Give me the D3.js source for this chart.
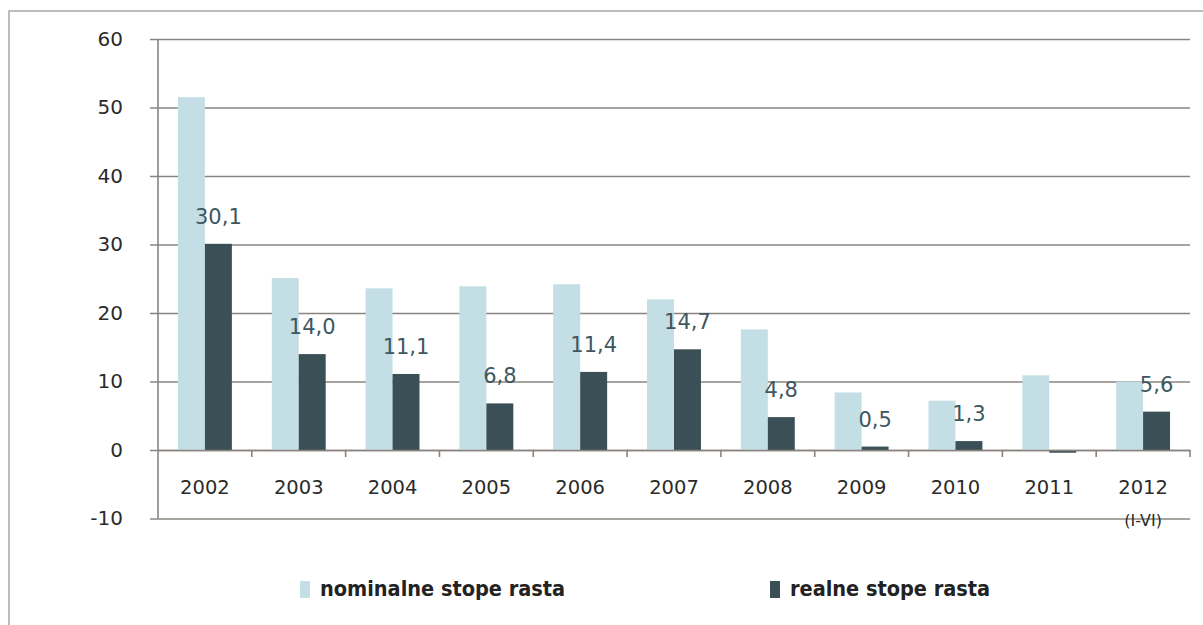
<!DOCTYPE html>
<html>
<head>
<meta charset="utf-8">
<script src="https://cdn.jsdelivr.net/npm/d3@7"></script>
<style>
  body { margin: 0; background: #fff; }
  svg { display: block; }
</style>
</head>
<body>
<svg></svg>
<script>
var years = ["2002","2003","2004","2005","2006","2007","2008","2009","2010","2011","2012"]
var yearNotes = ["","","","","","","","","","","(I-VI)"]
var nominal = [51.5, 25.1, 23.6, 23.9, 24.2, 22.0, 17.6, 8.4, 7.2, 10.9, 10.0]
var real = [30.1, 14.0, 11.1, 6.8, 11.4, 14.7, 4.8, 0.5, 1.3, -0.4, 5.6]
var realLabels = ["30,1","14,0","11,1","6,8","11,4","14,7","4,8","0,5","1,3","","5,6"]
var yTicks = [-10, 0, 10, 20, 30, 40, 50, 60]
var seriesNames = ["nominalne stope rasta", "realne stope rasta"]

var screen = {width:1203, height:625}
var plot = {left:158, right:1190, top:39, bottom:518.5}
var colors = ["#c3dee4", "#3a4f56"]

var svg = d3.select("svg")
  .attr("width", screen.width)
  .attr("height", screen.height)

// outer frame (cropped on the right and bottom)
svg.append("rect")
  .attr("x", 9).attr("y", 11)
  .attr("width", 1300).attr("height", 700)
  .attr("fill", "none")
  .attr("stroke", "#a9a6a3")
  .attr("stroke-width", 1.5)

var yScale = d3.scaleLinear()
  .domain([-10, 60])
  .range([plot.bottom, plot.top])

var xScale = d3.scaleBand()
  .domain(years)
  .range([plot.left, plot.right])

var sScale = d3.scaleBand()
  .domain([0, 1])
  .range([0, xScale.bandwidth()])
  .paddingOuter(0.74)

// gridlines + y ticks
var yAxis = d3.axisLeft(yScale)
  .tickValues(yTicks)
  .tickFormat(function(d){ return String(d) })
  .tickSize(-(plot.right - plot.left + 8))
  .tickPadding(27)
svg.append("g")
  .attr("id", "yAxis")
  .attr("transform", "translate(" + (plot.left - 8) + ",0)")
  .call(yAxis)
  .call(function(g){ g.select(".domain").remove() })
  .call(function(g){
    g.selectAll("line").attr("stroke", "#8a847f").attr("stroke-width", 1.6)
    g.selectAll("text")
      .attr("font-family", "DejaVu Sans, Verdana, sans-serif")
      .attr("font-size", 20)
      .attr("fill", "#2b2b2b")
  })

// y axis line
svg.append("line")
  .attr("x1", plot.left).attr("x2", plot.left)
  .attr("y1", yScale(60)).attr("y2", yScale(-10))
  .attr("stroke", "#8a847f").attr("stroke-width", 1.6)

var groups = svg.append("g")
  .attr("id", "graph")
  .selectAll("g")
  .data(years)
  .enter()
  .append("g")
  .attr("transform", function(d){ return "translate(" + xScale(d) + ",0)" })

groups.append("rect")
  .attr("x", sScale(0))
  .attr("width", sScale.bandwidth())
  .attr("y", function(d, i){ return yScale(Math.max(0, nominal[i])) })
  .attr("height", function(d, i){ return Math.abs(yScale(nominal[i]) - yScale(0)) })
  .attr("fill", colors[0])

groups.append("rect")
  .attr("x", sScale(1))
  .attr("width", sScale.bandwidth())
  .attr("y", function(d, i){ return yScale(Math.max(0, real[i])) })
  .attr("height", function(d, i){ return Math.abs(yScale(real[i]) - yScale(0)) })
  .attr("fill", colors[1])

groups.append("text")
  .attr("x", sScale(1) + sScale.bandwidth() / 2)
  .attr("y", function(d, i){ return yScale(Math.max(0, real[i])) - 20 })
  .attr("text-anchor", "middle")
  .attr("font-family", "DejaVu Sans, Verdana, sans-serif")
  .attr("font-size", 21)
  .attr("fill", "#3e5760")
  .text(function(d, i){ return realLabels[i] })

// zero line and category ticks
var xAxis = d3.axisBottom(xScale)
  .tickSize(0)
  .tickPadding(30)
svg.append("g")
  .attr("id", "xAxis")
  .attr("transform", "translate(0," + yScale(0) + ")")
  .call(xAxis)
  .call(function(g){
    g.select(".domain").attr("stroke", "#8a847f").attr("stroke-width", 1.6)
    g.selectAll("text")
      .attr("font-family", "DejaVu Sans, Verdana, sans-serif")
      .attr("font-size", 19.5)
      .attr("fill", "#2b2b2b")
    g.selectAll(".tick").each(function(d, i){
      if (yearNotes[i]) {
        d3.select(this).append("text")
          .attr("y", 76)
          .attr("fill", "#2b2b2b")
          .attr("font-family", "DejaVu Sans, Verdana, sans-serif")
          .attr("font-size", 16)
          .text(yearNotes[i])
      }
    })
  })

svg.append("g")
  .selectAll("line")
  .data(years.slice(1).concat(["end"]))
  .enter()
  .append("line")
  .attr("x1", function(d){ return d == "end" ? plot.right : xScale(d) })
  .attr("x2", function(d){ return d == "end" ? plot.right : xScale(d) })
  .attr("y1", yScale(0))
  .attr("y2", yScale(0) + 7)
  .attr("stroke", "#8a847f").attr("stroke-width", 1.6)

// legend
var legendX = [300, 770]
var legend = svg.append("g")
  .selectAll("g")
  .data(seriesNames)
  .enter()
  .append("g")
  .attr("transform", function(d, i){ return "translate(" + legendX[i] + ",581)" })

legend.append("rect")
  .attr("width", 10).attr("height", 17)
  .attr("fill", function(d, i){ return colors[i] })

legend.append("text")
  .attr("x", 20).attr("y", 15)
  .attr("font-family", "Liberation Sans Narrow, DejaVu Sans Condensed, sans-serif")
  .attr("font-weight", "bold")
  .attr("font-size", 21.5)
  .attr("fill", "#222")
  .text(function(d){ return d })
</script>
</body>
</html>
